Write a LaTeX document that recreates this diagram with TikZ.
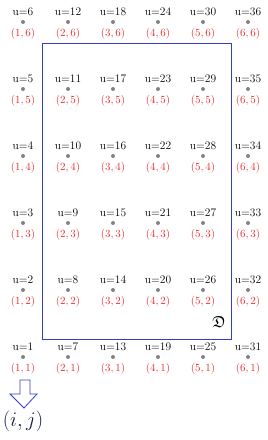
\documentclass[tikz,border=0pt]{standalone}
\usepackage{amssymb}
\definecolor{lblred}{RGB}{235,45,45}
\definecolor{boxblue}{RGB}{55,60,200}
\definecolor{dotgray}{RGB}{130,130,130}
\definecolor{ijcol}{RGB}{20,30,80}
\begin{document}
\begin{tikzpicture}[x=1pt,y=-1pt,
  dotnode/.style={circle,fill=dotgray,inner sep=0pt,minimum size=4pt},
  ulabel/.style={font=\fontsize{11.5}{13}\selectfont,inner sep=0pt},
  ijlabel/.style={text=lblred,font=\fontsize{11}{13}\selectfont,inner sep=0pt},
  boxline/.style={draw=boxblue,line width=0.8pt}]
\useasboundingbox (0,0) rectangle (268,440);
\foreach \i in {1,...,6}{
  \foreach \j in {1,...,6}{
    \pgfmathtruncatemacro{\u}{(\i-1)*6+\j}
    \pgfmathsetmacro{\xx}{23+(\i-1)*45}
    \pgfmathsetmacro{\yy}{22+(6-\j)*67}
    \node[dotnode] (p\i\j) at (\xx,\yy) {};
    \node[ulabel,anchor=base] (u\i\j) at (\xx,\yy-7) {u=\u};
    \node[ijlabel,anchor=base] (c\i\j) at (\xx,\yy+14.5) {$(\i,\j)$};
  }
}
\coordinate (bl) at (42,339);
\coordinate (tr) at (231,43);
\draw[boxline] (bl) rectangle (tr);
\node (frakD) at (219,322) {\fontsize{16}{18}\selectfont$\mathfrak{D}$};
\draw[draw=boxblue,line width=0.8pt,fill=white]
  (20,380) -- (30,380) -- (30,394) -- (37,394) -- (24,408) -- (10,394) -- (20,394) -- cycle;
\node[text=ijcol,font=\fontsize{20}{24}\selectfont] (ij) at (23,421) {$(i,j)$};
\end{tikzpicture}
\end{document}
